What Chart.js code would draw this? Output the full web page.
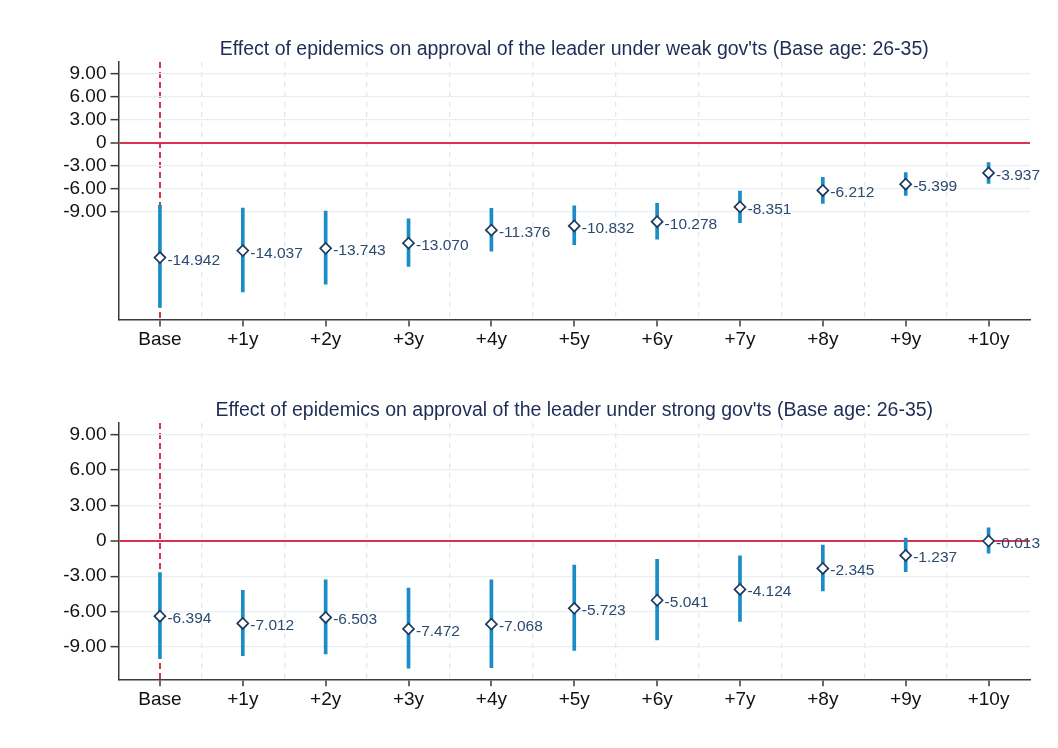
<!DOCTYPE html>
<html>
<head>
<meta charset="utf-8">
<script src="https://cdn.jsdelivr.net/npm/chart.js@4.4.1/dist/chart.umd.min.js"></script>
<style>
  body { margin: 0; background: #fff; }
  canvas { display: block; }
</style>
</head>
<body>
<canvas id="weakChart" width="1058" height="374"></canvas>
<canvas id="strongChart" width="1058" height="374"></canvas>
<script>
const periods = ['Base', '+1y', '+2y', '+3y', '+4y', '+5y', '+6y', '+7y', '+8y', '+9y', '+10y'];
const yTicks = [-9, -6, -3, 0, 3, 6, 9];

// weak gov'ts
const weakCoef = [-14.942, -14.037, -13.743, -13.070, -11.376, -10.832, -10.278, -8.351, -6.212, -5.399, -3.937];
const weakLow  = [-21.4, -19.4, -18.4, -16.1, -14.1, -13.25, -12.55, -10.4, -7.9, -6.85, -5.3];
const weakHigh = [-8.1, -8.5, -8.9, -9.9, -8.55, -8.2, -7.9, -6.3, -4.5, -3.9, -2.6];

// strong gov'ts
const strongCoef = [-6.394, -7.012, -6.503, -7.472, -7.068, -5.723, -5.041, -4.124, -2.345, -1.237, -0.013];
const strongLow  = [-9.97, -9.74, -9.6, -10.8, -10.77, -9.29, -8.4, -6.84, -4.25, -2.62, -1.05];
const strongHigh = [-2.7, -4.2, -3.3, -4.0, -3.3, -2.05, -1.57, -1.28, -0.37, 0.23, 1.11];

const FONT = "'Liberation Sans', Arial, Helvetica, sans-serif";
const RED = '#d9334f';
const CI_BLUE = '#1a8cc6';
const NAVY = '#1f3a5f';
const LABEL_COL = '#2b4a70';
const AXIS_COL = '#3a3a3a';
const GRID_COL = '#e7eff3';

// draws the title centred on the plot area and the value labels next to the diamonds
const textPlugin = {
    id: 'textPlugin',
    afterDatasetsDraw(chart, args, opts) {
        const ctx = chart.ctx;
        const meta = chart.getDatasetMeta(1);
        const values = chart.data.datasets[1].data;
        ctx.save();
        ctx.font = '15.5px ' + FONT;
        ctx.fillStyle = LABEL_COL;
        ctx.textAlign = 'left';
        ctx.textBaseline = 'alphabetic';
        meta.data.forEach((pt, i) => {
            ctx.fillText(values[i].toFixed(3), pt.x + 7.5, pt.y + 7);
        });
        ctx.restore();
    },
    afterDraw(chart, args, opts) {
        const ctx = chart.ctx;
        const ca = chart.chartArea;
        ctx.save();
        ctx.font = '19.5px ' + FONT;
        ctx.fillStyle = '#1e2d55';
        ctx.textAlign = 'center';
        ctx.textBaseline = 'alphabetic';
        ctx.fillText(opts.text, (ca.left + ca.right) / 2, opts.y);
        ctx.restore();
    }
};

function makeChart(id, title, coef, low, high, cfg) {
    const ctx = document.getElementById(id).getContext('2d');
    return new Chart(ctx, {
        type: 'bar',
        data: {
            labels: periods,
            datasets: [{
                label: 'CI',
                data: low.map((l, i) => [l, high[i]]),
                backgroundColor: CI_BLUE,
                barThickness: 3,
                order: 2
            }, {
                type: 'line',
                label: 'coef',
                data: coef,
                showLine: false,
                pointStyle: 'rectRot',
                pointRadius: 5.5,
                pointBorderWidth: 1.7,
                pointBorderColor: NAVY,
                pointBackgroundColor: '#fff',
                order: 1
            }]
        },
        plugins: [textPlugin],
        options: {
            responsive: false,
            animation: false,
            layout: { padding: { top: cfg.top, right: 28, left: 0, bottom: 0 } },
            plugins: {
                legend: { display: false },
                tooltip: { enabled: false },
                textPlugin: { text: title, y: cfg.titleY }
            },
            scales: {
                x: {
                    type: 'category',
                    offset: true,
                    grid: {
                        offset: false,
                        drawOnChartArea: true,
                        // only the Base line is drawn (red dashed), the rest are just tick marks
                        color: c => c.index === 0 ? RED : 'rgba(0,0,0,0)',
                        lineWidth: c => c.index === 0 ? 2 : 0,
                        tickColor: AXIS_COL,
                        tickWidth: 1.5,
                        tickLength: 7,
                        tickBorderDash: []
                    },
                    border: { display: true, color: AXIS_COL, width: 1.5, dash: [6, 4] },
                    ticks: { color: '#111', font: { family: FONT, size: 19 }, padding: 2, maxRotation: 0 },
                    afterFit: s => { s.height = cfg.xHeight; }
                },
                x2: {
                    type: 'category',
                    position: 'bottom',
                    offset: true,
                    grid: {
                        offset: true,
                        drawTicks: false,
                        color: c => (c.tick && c.index > 0) ? '#dfe9ef' : 'rgba(0,0,0,0)',
                        lineWidth: 1.3
                    },
                    border: { display: false, dash: [5, 5] },
                    ticks: { display: false },
                    afterFit: s => { s.height = 0; }
                },
                y: {
                    min: cfg.yMin,
                    max: cfg.yMax,
                    afterBuildTicks: s => { s.ticks = yTicks.map(v => ({ value: v })); },
                    grid: {
                        color: c => (c.tick && c.tick.value === 0) ? RED : GRID_COL,
                        lineWidth: c => (c.tick && c.tick.value === 0) ? 2 : 1.3,
                        tickColor: AXIS_COL,
                        tickWidth: 1.5,
                        tickLength: 8
                    },
                    border: { display: true, color: AXIS_COL, width: 1.5 },
                    ticks: {
                        color: '#111',
                        font: { family: FONT, size: 19 },
                        padding: 4,
                        callback: v => v === 0 ? '0' : v.toFixed(2)
                    },
                    afterFit: s => { s.width = 118.5; }
                }
            }
        }
    });
}

makeChart('weakChart',
    "Effect of epidemics on approval of the leader under weak gov'ts (Base age: 26-35)",
    weakCoef, weakLow, weakHigh,
    { top: 62, xHeight: 54.5, yMin: -23, yMax: 10.5, titleY: 55 });

makeChart('strongChart',
    "Effect of epidemics on approval of the leader under strong gov'ts (Base age: 26-35)",
    strongCoef, strongLow, strongHigh,
    { top: 49, xHeight: 68.7, yMin: -11.75, yMax: 10, titleY: 42 });
</script>
</body>
</html>
